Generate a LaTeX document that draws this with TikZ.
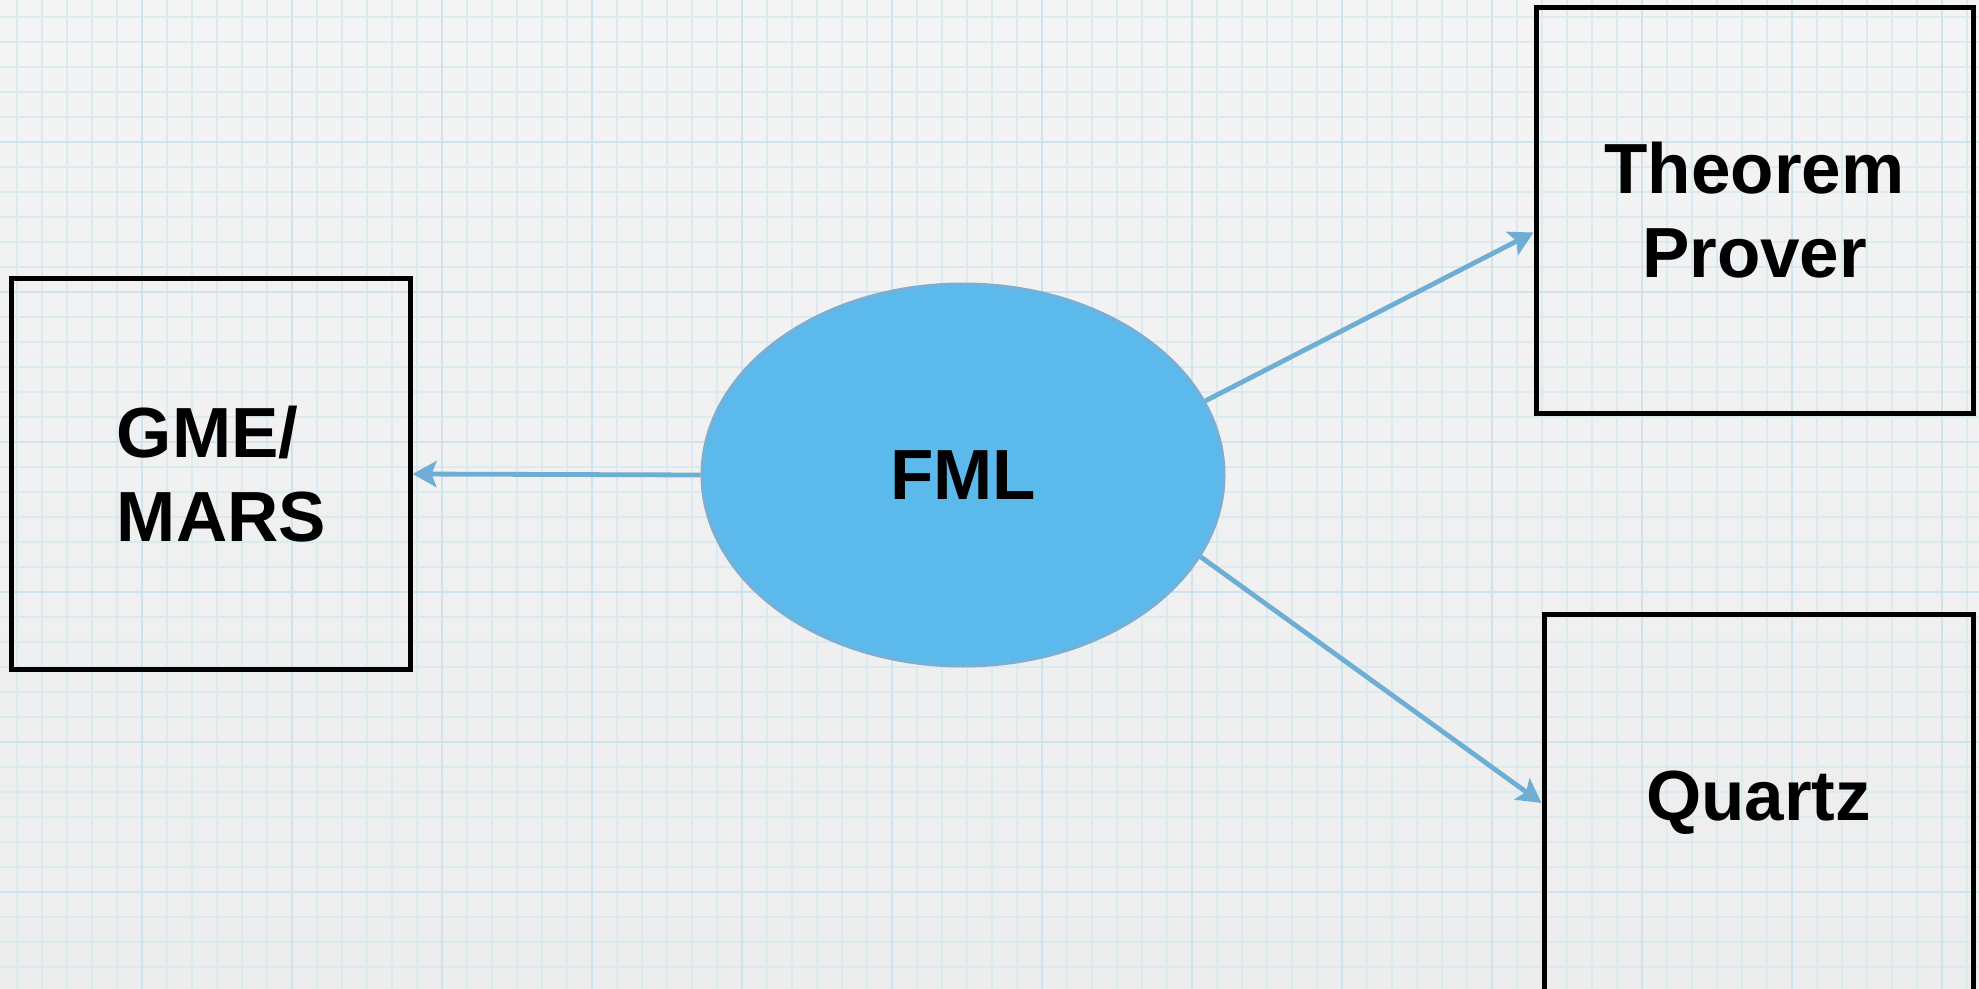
\documentclass[tikz,border=0pt]{standalone}
\usepackage{fontspec}
\setmainfont{Liberation Sans}
\usetikzlibrary{arrows.meta,shapes.geometric}

\definecolor{papertop}{HTML}{F4F4F4}
\definecolor{paperbot}{HTML}{EDEDED}
\definecolor{gridminor}{HTML}{DAEAF0}
\definecolor{gridmajor}{HTML}{CEE3EC}
\definecolor{bubblefill}{HTML}{5CB9EB}
\definecolor{bubbleline}{HTML}{79AFD4}
\definecolor{linkblue}{HTML}{6EAED4}

\tikzset{
  minorline/.style={draw=gridminor, line width=0.75pt},
  majorline/.style={draw=gridmajor, line width=1.25pt},
  bigtext/.style={font=\fontsize{35.5}{42}\selectfont\bfseries, text=black},
  plainbox/.style={rectangle, draw=black, line width=2.5pt, inner sep=0pt, bigtext},
  bubble/.style={ellipse, fill=bubblefill, draw=bubbleline, line width=1.5pt,
                 inner sep=0pt, minimum width=261pt, minimum height=191pt, bigtext},
  link/.style={draw=linkblue, line width=2.4pt,
               -{Stealth[length=12pt, width=13pt, inset=2.5pt]}},
}

\begin{document}
\begin{tikzpicture}[x=0.5pt, y=-0.5pt]
\useasboundingbox (0,0) rectangle (1979,989);
\clip (0,0) rectangle (1979,989);

% paper background
\shade[top color=papertop, bottom color=paperbot] (0,0) rectangle (1979,989);

% graph-paper grid: fine lines every 25, heavier every 150
\foreach \i in {0,...,79} {
  \draw[minorline] ({17+25*\i},0) -- ({17+25*\i},989);
}
\foreach \i in {0,...,39} {
  \draw[minorline] (0,{17+25*\i}) -- (1979,{17+25*\i});
}
\foreach \i in {0,...,12} {
  \draw[majorline] ({142+150*\i},0) -- ({142+150*\i},989);
}
\foreach \i in {0,...,6} {
  \draw[majorline] (0,{142+150*\i}) -- (1979,{142+150*\i});
}

% components
\node[plainbox, minimum width=199.5pt, minimum height=195pt] (gme) at (210.5,474) {};
\node[bigtext, align=left] (gmetext) at ([xshift=5.5pt]gme.center) {GME/\\MARS};
\node[bubble] (fml) at (963,475) {FML};
\node[plainbox, align=center, minimum width=218.5pt, minimum height=202.5pt]
  (thm) at (1754.5,210.5) {Theorem\\Prover};
\node[plainbox, minimum width=214.5pt, minimum height=189pt]
  (quartz) at (1758.5,803) {Quartz};

% connectors
\draw[link] (fml.west) -- (gme.east);
\draw[link] (fml.17) -- ([yshift=-11pt]thm.west);
\draw[link] (fml.-19.2) -- (quartz.west);
\end{tikzpicture}
\end{document}
